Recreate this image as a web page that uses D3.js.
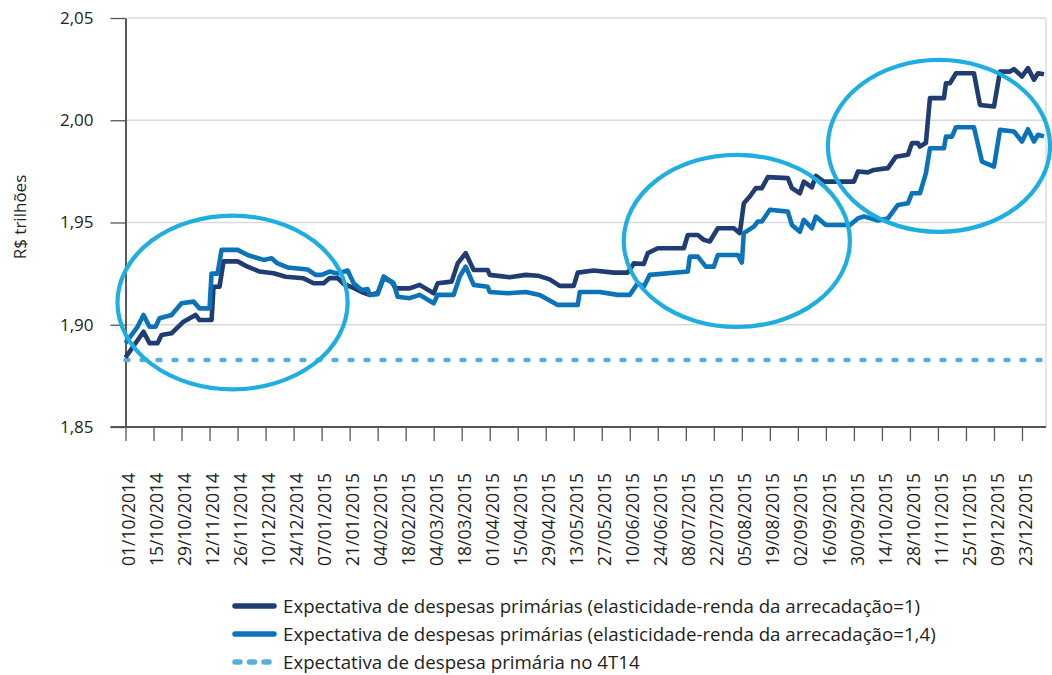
<!DOCTYPE html>
<html>
<head>
<meta charset="utf-8">
<script src="https://cdn.jsdelivr.net/npm/d3@7"></script>
<style>
  body { margin: 0; background: #fff; }
  text { font-family: "Open Sans", "Noto Sans", sans-serif; fill: #231f20; }
</style>
</head>
<body>
<div id="chart"></div>
<script>
// Expectativa de despesas primárias (R$ trilhões), out/2014 - dez/2015

// Serie 1: elasticidade-renda da arrecadação = 1
var despesasElast1 = [
  ["2014-10-01", 1.884], ["2014-10-10", 1.8966], ["2014-10-13", 1.891], ["2014-10-17", 1.891],
  ["2014-10-19", 1.895], ["2014-10-24", 1.8958], ["2014-10-30", 1.9015], ["2014-11-05", 1.9048],
  ["2014-11-07", 1.9023], ["2014-11-13", 1.9023], ["2014-11-14", 1.9186], ["2014-11-17", 1.9186],
  ["2014-11-19", 1.931], ["2014-11-26", 1.931], ["2014-12-01", 1.9284], ["2014-12-07", 1.926],
  ["2014-12-14", 1.9252], ["2014-12-20", 1.9235], ["2014-12-29", 1.9227], ["2015-01-03", 1.9203],
  ["2015-01-08", 1.9203], ["2015-01-11", 1.9228], ["2015-01-15", 1.9228], ["2015-01-18", 1.920],
  ["2015-01-23", 1.918], ["2015-01-27", 1.916], ["2015-01-31", 1.9146], ["2015-02-04", 1.9155],
  ["2015-02-07", 1.9228], ["2015-02-11", 1.921], ["2015-02-13", 1.9178], ["2015-02-20", 1.9178],
  ["2015-02-25", 1.9195], ["2015-03-04", 1.9154], ["2015-03-06", 1.9203], ["2015-03-13", 1.9211],
  ["2015-03-16", 1.930], ["2015-03-20", 1.935], ["2015-03-24", 1.9268], ["2015-03-31", 1.9268],
  ["2015-04-01", 1.9244], ["2015-04-11", 1.9232], ["2015-04-19", 1.9244], ["2015-04-25", 1.924],
  ["2015-05-01", 1.9222], ["2015-05-06", 1.919], ["2015-05-13", 1.919], ["2015-05-15", 1.9255],
  ["2015-05-23", 1.9265], ["2015-06-02", 1.9255], ["2015-06-09", 1.9255], ["2015-06-12", 1.930],
  ["2015-06-17", 1.9297], ["2015-06-19", 1.935], ["2015-06-24", 1.9374], ["2015-07-07", 1.9374],
  ["2015-07-09", 1.9439], ["2015-07-14", 1.9439], ["2015-07-17", 1.9415], ["2015-07-20", 1.9407],
  ["2015-07-24", 1.9472], ["2015-08-01", 1.9472], ["2015-08-04", 1.9448], ["2015-08-06", 1.9594],
  ["2015-08-09", 1.9627], ["2015-08-12", 1.9668], ["2015-08-15", 1.9668], ["2015-08-18", 1.9722],
  ["2015-08-28", 1.9717], ["2015-08-30", 1.9668], ["2015-09-03", 1.9643], ["2015-09-05", 1.970],
  ["2015-09-09", 1.9672], ["2015-09-11", 1.9728], ["2015-09-15", 1.970], ["2015-09-30", 1.970],
  ["2015-10-02", 1.9749], ["2015-10-07", 1.9745], ["2015-10-10", 1.9757], ["2015-10-17", 1.9766],
  ["2015-10-21", 1.9822], ["2015-10-27", 1.9831], ["2015-10-29", 1.9888], ["2015-11-01", 1.9888],
  ["2015-11-02", 1.9871], ["2015-11-05", 1.989], ["2015-11-06", 2.000], ["2015-11-07", 2.0108],
  ["2015-11-14", 2.0108], ["2015-11-15", 2.0181], ["2015-11-17", 2.0181], ["2015-11-20", 2.023],
  ["2015-11-29", 2.023], ["2015-12-02", 2.0075], ["2015-12-09", 2.0067], ["2015-12-12", 2.0238],
  ["2015-12-17", 2.0238], ["2015-12-19", 2.025], ["2015-12-23", 2.0214], ["2015-12-26", 2.0255],
  ["2015-12-29", 2.0198], ["2015-12-31", 2.023], ["2016-01-03", 2.0225]
];

// Serie 2: elasticidade-renda da arrecadação = 1,4
var despesasElast14 = [
  ["2014-10-01", 1.891], ["2014-10-07", 1.899], ["2014-10-10", 1.9048], ["2014-10-13", 1.899],
  ["2014-10-16", 1.899], ["2014-10-18", 1.9032], ["2014-10-24", 1.9048], ["2014-10-29", 1.9105],
  ["2014-11-04", 1.9113], ["2014-11-07", 1.908], ["2014-11-12", 1.908], ["2014-11-13", 1.925],
  ["2014-11-16", 1.925], ["2014-11-18", 1.9366], ["2014-11-26", 1.9366], ["2014-12-01", 1.9341],
  ["2014-12-09", 1.9317], ["2014-12-13", 1.9325], ["2014-12-16", 1.930], ["2014-12-21", 1.928],
  ["2014-12-31", 1.927], ["2015-01-04", 1.9244], ["2015-01-07", 1.9244], ["2015-01-11", 1.926],
  ["2015-01-15", 1.925], ["2015-01-20", 1.9265], ["2015-01-23", 1.9203], ["2015-01-27", 1.917],
  ["2015-01-30", 1.9175], ["2015-01-31", 1.9146], ["2015-02-04", 1.9149], ["2015-02-07", 1.9236],
  ["2015-02-12", 1.9203], ["2015-02-14", 1.9137], ["2015-02-20", 1.913], ["2015-02-25", 1.9146],
  ["2015-03-04", 1.9105], ["2015-03-06", 1.9146], ["2015-03-14", 1.9146], ["2015-03-17", 1.9235],
  ["2015-03-20", 1.9284], ["2015-03-24", 1.9195], ["2015-03-31", 1.9186], ["2015-04-01", 1.916],
  ["2015-04-10", 1.9154], ["2015-04-19", 1.916], ["2015-04-26", 1.9146], ["2015-05-05", 1.9097],
  ["2015-05-15", 1.9097], ["2015-05-16", 1.916], ["2015-05-26", 1.916], ["2015-06-04", 1.9146],
  ["2015-06-10", 1.9146], ["2015-06-14", 1.9203], ["2015-06-17", 1.9186], ["2015-06-20", 1.9244],
  ["2015-07-09", 1.926], ["2015-07-10", 1.9333], ["2015-07-14", 1.9333], ["2015-07-18", 1.9284],
  ["2015-07-22", 1.9284], ["2015-07-24", 1.9341], ["2015-08-03", 1.9341], ["2015-08-05", 1.9304],
  ["2015-08-06", 1.9448], ["2015-08-11", 1.948], ["2015-08-13", 1.9505], ["2015-08-15", 1.9505],
  ["2015-08-19", 1.9562], ["2015-08-28", 1.9553], ["2015-08-30", 1.9488], ["2015-09-03", 1.9455],
  ["2015-09-05", 1.9513], ["2015-09-09", 1.9472], ["2015-09-11", 1.9529], ["2015-09-16", 1.9488],
  ["2015-09-28", 1.9488], ["2015-10-02", 1.952], ["2015-10-05", 1.953], ["2015-10-12", 1.951],
  ["2015-10-17", 1.952], ["2015-10-22", 1.9586], ["2015-10-27", 1.9594], ["2015-10-29", 1.9643],
  ["2015-11-02", 1.9643], ["2015-11-05", 1.9741], ["2015-11-07", 1.9863], ["2015-11-14", 1.9863],
  ["2015-11-15", 1.992], ["2015-11-18", 1.992], ["2015-11-20", 1.9966], ["2015-11-29", 1.9966],
  ["2015-12-03", 1.9798], ["2015-12-09", 1.9773], ["2015-12-12", 1.9953], ["2015-12-19", 1.9945],
  ["2015-12-23", 1.9896], ["2015-12-26", 1.9956], ["2015-12-29", 1.9896], ["2015-12-31", 1.9929],
  ["2016-01-03", 1.9921]
];

// Expectativa de despesa primária no 4T14 (constante)
var despesa4T14 = 1.8828;
var periodo = ["2014-10-01", "2016-01-04"];

// Ticks
var yTicks = [1.85, 1.90, 1.95, 2.00, 2.05];
var xTickLabels = [
  "01/10/2014", "15/10/2014", "29/10/2014", "12/11/2014", "26/11/2014", "10/12/2014", "24/12/2014",
  "07/01/2015", "21/01/2015", "04/02/2015", "18/02/2015", "04/03/2015", "18/03/2015", "01/04/2015",
  "15/04/2015", "29/04/2015", "13/05/2015", "27/05/2015", "10/06/2015", "24/06/2015", "08/07/2015",
  "22/07/2015", "05/08/2015", "19/08/2015", "02/09/2015", "16/09/2015", "30/09/2015", "14/10/2015",
  "28/10/2015", "11/11/2015", "25/11/2015", "09/12/2015", "23/12/2015"
];

// Destaques (elipses): [data inicial, data final, valor min, valor max]
var destaques = [
  ["2014-09-27", "2015-01-20", 1.8684, 1.9534],
  ["2015-06-07", "2015-09-28", 1.8989, 1.9831],
  ["2015-09-17", "2016-01-06", 1.9454, 2.0295]
];

var legendLabels = [
  "Expectativa de despesas primárias (elasticidade-renda da arrecadação=1)",
  "Expectativa de despesas primárias (elasticidade-renda da arrecadação=1,4)",
  "Expectativa de despesa primária no 4T14"
];

var corEscura = "#1f3d72";
var corMedia = "#0b73b9";
var corClara = "#5aaedc";
var corElipse = "#1eaee2";

var width = 1052, height = 675;
var plotLeft = 125.5, plotRight = 1046, plotTop = 18, plotBottom = 427;

var parseDate = d3.timeParse("%Y-%m-%d");
var parseLabel = d3.timeParse("%d/%m/%Y");

var x = d3.scaleTime()
  .domain(periodo.map(parseDate))
  .range([plotLeft, plotRight]);
var y = d3.scaleLinear()
  .domain([1.85, 2.05])
  .range([plotBottom, plotTop]);

var svg = d3.select("#chart").append("svg")
  .attr("width", width)
  .attr("height", height);

// Grid lines
svg.append("g")
  .selectAll("line")
  .data(yTicks.slice(1))
  .enter().append("line")
  .attr("x1", plotLeft).attr("x2", plotRight)
  .attr("y1", function(d) { return y(d); })
  .attr("y2", function(d) { return y(d); })
  .style("stroke", "#d9d9d9")
  .style("stroke-width", 1.3);

// right border
svg.append("line")
  .attr("x1", plotRight).attr("x2", plotRight)
  .attr("y1", y(2.05)).attr("y2", plotBottom)
  .style("stroke", "#d9d9d9")
  .style("stroke-width", 1.3);

// Y axis
var yAxis = svg.append("g")
  .attr("transform", "translate(" + plotLeft + ",0)")
  .call(d3.axisLeft(y)
    .tickValues(yTicks)
    .tickSize(15)
    .tickSizeOuter(0)
    .tickPadding(17)
    .tickFormat(function(d) { return d3.format(".2f")(d).replace(".", ","); }));
yAxis.select(".domain").style("stroke", "#000").style("stroke-width", 1.3);
yAxis.selectAll(".tick line").style("stroke", "#555").style("stroke-width", 1.3);
yAxis.selectAll("text")
  .style("font-size", "17px")
  .style("font-family", "'Open Sans', sans-serif")
  .attr("fill", "#231f20");

// X axis
var xAxis = svg.append("g")
  .attr("transform", "translate(0," + plotBottom + ")")
  .call(d3.axisBottom(x)
    .tickValues(xTickLabels.map(parseLabel))
    .tickSize(14)
    .tickSizeOuter(0)
    .tickFormat(d3.timeFormat("%d/%m/%Y")));
xAxis.select(".domain").remove();
xAxis.append("line")
  .attr("x1", plotLeft - 15).attr("x2", plotRight)
  .attr("y1", 0).attr("y2", 0)
  .style("stroke", "#555")
  .style("stroke-width", 2);
xAxis.selectAll(".tick line").style("stroke", "#555").style("stroke-width", 1.3);
xAxis.selectAll("text")
  .style("font-size", "17.5px")
  .style("font-family", "'Open Sans', sans-serif")
  .attr("fill", "#231f20")
  .attr("text-anchor", "end")
  .attr("transform", "rotate(-90)")
  .attr("x", -46)
  .attr("y", 3)
  .attr("dy", "0.35em");

// y label
svg.append("text")
  .attr("transform", "translate(20,217) rotate(-90)")
  .attr("text-anchor", "middle")
  .attr("dy", "0.35em")
  .style("font-size", "17px")
  .text("R$ trilhões");

// Dashed line 4T14
svg.append("line")
  .attr("x1", x(parseDate(periodo[0]))).attr("x2", plotRight)
  .attr("y1", y(despesa4T14)).attr("y2", y(despesa4T14))
  .style("stroke", corClara)
  .style("stroke-width", 4.5)
  .style("stroke-linecap", "round")
  .style("stroke-dasharray", "3,13");

var valueline = d3.line()
  .x(function(d) { return x(parseDate(d[0])); })
  .y(function(d) { return y(d[1]); });

svg.append("path")
  .datum(despesasElast1)
  .attr("fill", "none")
  .style("stroke", corEscura)
  .style("stroke-width", 4.6)
  .style("stroke-linejoin", "round")
  .attr("d", valueline);

svg.append("path")
  .datum(despesasElast14)
  .attr("fill", "none")
  .style("stroke", corMedia)
  .style("stroke-width", 4.6)
  .style("stroke-linejoin", "round")
  .attr("d", valueline);

// Ellipses
svg.append("g")
  .selectAll("ellipse")
  .data(destaques)
  .enter().append("ellipse")
  .attr("cx", function(d) { return (x(parseDate(d[0])) + x(parseDate(d[1]))) / 2; })
  .attr("cy", function(d) { return (y(d[2]) + y(d[3])) / 2; })
  .attr("rx", function(d) { return (x(parseDate(d[1])) - x(parseDate(d[0]))) / 2; })
  .attr("ry", function(d) { return (y(d[2]) - y(d[3])) / 2; })
  .attr("fill", "none")
  .style("stroke", corElipse)
  .style("stroke-width", 4.2);

// Legend
var legendStyles = [
  { color: corEscura, dash: null },
  { color: corMedia, dash: null },
  { color: corClara, dash: "5,9.5" }
];
var legend = svg.append("g")
  .selectAll("g")
  .data(legendLabels)
  .enter().append("g")
  .attr("transform", function(d, i) { return "translate(0," + (606 + i * 28) + ")"; });

legend.append("line")
  .attr("x1", 235).attr("x2", 274)
  .attr("y1", 0).attr("y2", 0)
  .style("stroke", function(d, i) { return legendStyles[i].color; })
  .style("stroke-width", 5.5)
  .style("stroke-linecap", "round")
  .style("stroke-dasharray", function(d, i) { return legendStyles[i].dash; });

legend.append("text")
  .attr("x", 283)
  .attr("y", 0)
  .attr("dy", "0.35em")
  .style("font-size", "18.7px")
  .text(function(d) { return d; });
</script>
</body>
</html>
